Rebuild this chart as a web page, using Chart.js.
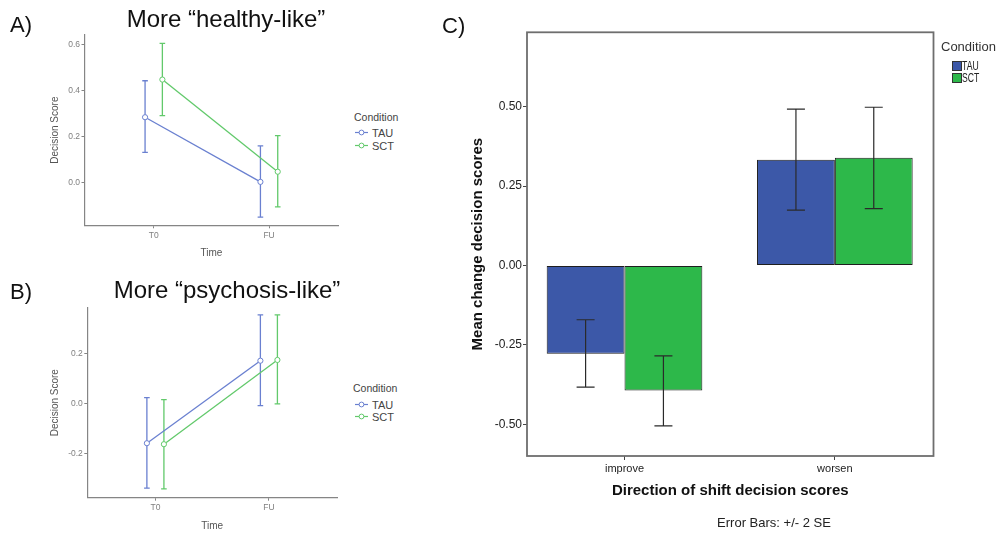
<!DOCTYPE html>
<html>
<head>
<meta charset="utf-8">
<title>Decision scores</title>
<script src="https://cdn.jsdelivr.net/npm/chart.js@4.4.1/dist/chart.umd.min.js"></script>
<style>
    body { margin: 0; background: #fff; font-family: 'Liberation Sans', Arial, sans-serif; }
    #page { position: relative; width: 1003px; height: 534px; overflow: hidden; }
    .box { position: absolute; }
    .txt { position: absolute; white-space: nowrap; line-height: 1; }
    .mid { transform: translate(-50%, -50%); }
    .left { transform: translate(0, -50%); }
    .panel-label { font-size: 22px; color: #111; }
    .panel-title { font-size: 24px; color: #111; }
    .gg-legend-title { font-size: 10.5px; color: #444; }
    .gg-legend-item { font-size: 11px; color: #444; }
    .sym { position: absolute; }
    .swatch { position: absolute; width: 8px; height: 8px; border: 1px solid #333; }
    .spss-item { font-size: 12px; color: #222; transform: translate(0, -50%) scaleX(0.72); transform-origin: left center; }
</style>
</head>
<body>
<div id="page">
    <div class="box" style="left:0;top:0;width:345px;height:265px"><canvas id="healthyChart"></canvas></div>
    <div class="box" style="left:0;top:270px;width:345px;height:264px"><canvas id="psychChart"></canvas></div>
    <div class="box" style="left:440px;top:0;width:563px;height:534px"><canvas id="shiftChart"></canvas></div>

    <!-- panel headings -->
    <div class="txt left panel-label" style="left:10px;top:25px">A)</div>
    <div class="txt mid panel-title" style="left:226px;top:19px">More “healthy-like”</div>
    <div class="txt left panel-label" style="left:10px;top:292px">B)</div>
    <div class="txt mid panel-title" style="left:227px;top:290px">More “psychosis-like”</div>
    <div class="txt left panel-label" style="left:442px;top:26px">C)</div>

    <!-- legend A -->
    <div class="txt left gg-legend-title" style="left:354px;top:117px">Condition</div>
    <svg class="sym" style="left:355px;top:128px" width="13" height="9"><line x1="0" y1="4.5" x2="13" y2="4.5" stroke="#6a80d0" stroke-width="1.2"/><circle cx="6.5" cy="4.5" r="2.4" fill="#fff" stroke="#6a80d0" stroke-width="1"/></svg>
    <div class="txt left gg-legend-item" style="left:372px;top:133px">TAU</div>
    <svg class="sym" style="left:355px;top:141px" width="13" height="9"><line x1="0" y1="4.5" x2="13" y2="4.5" stroke="#62c96b" stroke-width="1.2"/><circle cx="6.5" cy="4.5" r="2.4" fill="#fff" stroke="#62c96b" stroke-width="1"/></svg>
    <div class="txt left gg-legend-item" style="left:372px;top:146px">SCT</div>

    <!-- legend B -->
    <div class="txt left gg-legend-title" style="left:353px;top:388px">Condition</div>
    <svg class="sym" style="left:355px;top:400px" width="13" height="9"><line x1="0" y1="4.5" x2="13" y2="4.5" stroke="#6a80d0" stroke-width="1.2"/><circle cx="6.5" cy="4.5" r="2.4" fill="#fff" stroke="#6a80d0" stroke-width="1"/></svg>
    <div class="txt left gg-legend-item" style="left:372px;top:405px">TAU</div>
    <svg class="sym" style="left:355px;top:412px" width="13" height="9"><line x1="0" y1="4.5" x2="13" y2="4.5" stroke="#62c96b" stroke-width="1.2"/><circle cx="6.5" cy="4.5" r="2.4" fill="#fff" stroke="#62c96b" stroke-width="1"/></svg>
    <div class="txt left gg-legend-item" style="left:372px;top:417px">SCT</div>

    <!-- legend C -->
    <div class="txt left" style="left:941px;top:46px;font-size:13px;color:#333">Condition</div>
    <div class="swatch" style="left:952px;top:61px;background:#3c58a8"></div>
    <div class="txt spss-item" style="left:962px;top:66px">TAU</div>
    <div class="swatch" style="left:952px;top:72.5px;background:#2db84a"></div>
    <div class="txt spss-item" style="left:962px;top:77.5px">SCT</div>

    <div class="txt mid" style="left:774px;top:522px;font-size:13px;color:#222">Error Bars: +/- 2 SE</div>
</div>

<script>
// Data
const timeLabels = ['T0', 'FU'];
const conditions = ['TAU', 'SCT'];

// A) more "healthy-like"
const healthyTauMean = [0.284, 0.004];
const healthyTauLow = [0.132, -0.149];
const healthyTauHigh = [0.442, 0.160];
const healthySctMean = [0.447, 0.048];
const healthySctLow = [0.291, -0.104];
const healthySctHigh = [0.604, 0.204];
const healthyTicks = [0, 0.2, 0.4, 0.6];

// B) more "psychosis-like"
const psychTauMean = [-0.158, 0.172];
const psychTauLow = [-0.338, -0.008];
const psychTauHigh = [0.024, 0.355];
const psychSctMean = [-0.162, 0.175];
const psychSctLow = [-0.341, -0.001];
const psychSctHigh = [0.016, 0.355];
const psychTicks = [-0.2, 0, 0.2];

// C) mean change by direction of shift
const directions = ['improve', 'worsen'];
const shiftTauMean = [-0.278, 0.333];
const shiftTauLow = [-0.383, 0.174];
const shiftTauHigh = [-0.171, 0.492];
const shiftSctMean = [-0.394, 0.339];
const shiftSctLow = [-0.505, 0.179];
const shiftSctHigh = [-0.285, 0.498];
const shiftTicks = [-0.5, -0.25, 0, 0.25, 0.5];

const lineColors = ['#6a80d0', '#62c96b'];
const barColors = ['#3c58a8', '#2db84a'];
const dodge = 0.075;

Chart.defaults.font.family = "'Liberation Sans', Arial, sans-serif";
Chart.defaults.animation = false;

// Draw error bars from dataset errLow / errHigh
function drawErrorBars(chart, opts) {
    const ctx = chart.ctx;
    const yScale = chart.scales.y;
    ctx.save();
    chart.data.datasets.forEach((ds, i) => {
        if (!ds.errLow) return;
        const meta = chart.getDatasetMeta(i);
        ctx.strokeStyle = opts.color || ds.borderColor;
        ctx.lineWidth = opts.width || 1;
        meta.data.forEach((el, j) => {
            const x = el.x;
            const top = yScale.getPixelForValue(ds.errHigh[j]);
            const bot = yScale.getPixelForValue(ds.errLow[j]);
            ctx.beginPath();
            ctx.moveTo(x, top);
            ctx.lineTo(x, bot);
            ctx.moveTo(x - opts.cap, top);
            ctx.lineTo(x + opts.cap, top);
            ctx.moveTo(x - opts.cap, bot);
            ctx.lineTo(x + opts.cap, bot);
            ctx.stroke();
        });
    });
    ctx.restore();
}

const errorBarPlugin = {
    id: 'errorBars',
    beforeDatasetsDraw(chart, args, opts) {
        if (opts.under) drawErrorBars(chart, opts);
    },
    afterDatasetsDraw(chart, args, opts) {
        if (!opts.under) drawErrorBars(chart, opts);
    }
};

// SPSS style box round the plot area
const framePlugin = {
    id: 'frame',
    afterDatasetsDraw(chart, args, opts) {
        const a = chart.chartArea;
        const ctx = chart.ctx;
        ctx.save();
        ctx.strokeStyle = opts.color;
        ctx.lineWidth = opts.width;
        ctx.strokeRect(a.left, a.top, a.right - a.left, a.bottom - a.top);
        ctx.restore();
    }
};

// ggplot style panel (A and B)
function makeLinePanel(canvasId, tau, sct, yTicks, dims) {
    const groups = [tau, sct];
    const datasets = groups.map((g, k) => ({
        label: conditions[k],
        data: timeLabels.map((t, i) => ({ x: i + 1 + (k === 0 ? -dodge : dodge), y: g.mean[i] })),
        errLow: g.low,
        errHigh: g.high,
        showLine: true,
        borderColor: lineColors[k],
        borderWidth: 1.3,
        pointRadius: 2.6,
        pointBackgroundColor: '#fff',
        pointBorderColor: lineColors[k],
        pointBorderWidth: 1
    }));

    const axisColor = '#858585';
    return new Chart(document.getElementById(canvasId), {
        type: 'scatter',
        data: { datasets },
        plugins: [errorBarPlugin],
        options: {
            responsive: true,
            maintainAspectRatio: false,
            layout: { padding: { top: dims.top, right: dims.right, left: 0, bottom: 0 } },
            scales: {
                x: {
                    type: 'linear',
                    min: 0.4,
                    max: 2.6,
                    afterBuildTicks: s => { s.ticks = timeLabels.map((t, i) => ({ value: i + 1 })); },
                    afterFit: s => { s.height = dims.xHeight; },
                    ticks: {
                        autoSkip: false,
                        maxRotation: 0,
                        padding: 2,
                        color: '#7f7f7f',
                        font: { size: 8.5 },
                        callback: v => timeLabels[Math.round(v) - 1]
                    },
                    grid: { drawOnChartArea: false, drawTicks: true, tickLength: 3, color: axisColor },
                    border: { display: true, color: axisColor, width: 1.2 },
                    title: {
                        display: true,
                        text: 'Time',
                        color: '#555',
                        font: { size: 10 },
                        padding: { top: 0, bottom: dims.timePad }
                    }
                },
                y: {
                    min: dims.yMin,
                    max: dims.yMax,
                    afterBuildTicks: s => { s.ticks = yTicks.map(v => ({ value: v })); },
                    afterFit: s => { s.width = dims.yWidth; },
                    ticks: {
                        autoSkip: false,
                        padding: 1.5,
                        color: '#7f7f7f',
                        font: { size: 8.5 },
                        callback: v => v.toFixed(1)
                    },
                    grid: { drawOnChartArea: false, drawTicks: true, tickLength: 3, color: axisColor },
                    border: { display: true, color: axisColor, width: 1.2 },
                    title: {
                        display: true,
                        text: 'Decision Score',
                        color: '#555',
                        font: { size: 10 },
                        padding: { top: 49, bottom: 0 }
                    }
                }
            },
            plugins: {
                legend: { display: false },
                tooltip: { enabled: false },
                errorBars: { under: true, cap: 2.8, width: 1.3 }
            }
        }
    });
}

// SPSS style grouped bars (C)
function makeShiftPanel() {
    const groups = [
        { mean: shiftTauMean, low: shiftTauLow, high: shiftTauHigh },
        { mean: shiftSctMean, low: shiftSctLow, high: shiftSctHigh }
    ];
    const datasets = groups.map((g, k) => ({
        label: conditions[k],
        data: directions.map((d, i) => ({ x: i, y: g.mean[i] })),
        errLow: g.low,
        errHigh: g.high,
        backgroundColor: barColors[k],
        borderColor: '#1e1e1e',
        borderWidth: 1,
        borderSkipped: false,
        categoryPercentage: 0.74,
        barPercentage: 1
    }));

    const tickColor = '#444';
    return new Chart(document.getElementById('shiftChart'), {
        type: 'bar',
        data: { datasets },
        plugins: [errorBarPlugin, framePlugin],
        options: {
            responsive: true,
            maintainAspectRatio: false,
            layout: { padding: { top: 32.3, right: 69.5, left: 0, bottom: 0 } },
            scales: {
                x: {
                    type: 'linear',
                    offset: false,
                    min: -0.4636,
                    max: 1.469,
                    afterBuildTicks: s => { s.ticks = directions.map((d, i) => ({ value: i })); },
                    afterFit: s => { s.height = 78; },
                    ticks: {
                        autoSkip: false,
                        maxRotation: 0,
                        padding: 2,
                        color: '#222',
                        font: { size: 11 },
                        callback: v => directions[Math.round(v)]
                    },
                    grid: { offset: false, drawOnChartArea: false, drawTicks: true, tickLength: 4, color: tickColor },
                    border: { display: false },
                    title: {
                        display: true,
                        text: 'Direction of shift decision scores',
                        color: '#111',
                        font: { size: 15, weight: 'bold' },
                        padding: { top: 0, bottom: 34.3 }
                    }
                },
                y: {
                    min: -0.600,
                    max: 0.734,
                    afterBuildTicks: s => { s.ticks = shiftTicks.map(v => ({ value: v })); },
                    afterFit: s => { s.width = 87; },
                    ticks: {
                        autoSkip: false,
                        padding: 1,
                        color: '#222',
                        font: { size: 12 },
                        callback: v => v.toFixed(2)
                    },
                    grid: { drawOnChartArea: false, drawTicks: true, tickLength: 4, color: tickColor },
                    border: { display: false },
                    title: {
                        display: true,
                        text: 'Mean change decision scores',
                        color: '#111',
                        font: { size: 15, weight: 'bold' },
                        padding: { top: 28.5, bottom: 0 }
                    }
                }
            },
            plugins: {
                legend: { display: false },
                tooltip: { enabled: false },
                errorBars: { under: false, cap: 9, width: 1.2, color: '#2a2a2a' },
                frame: { color: '#6e6e6e', width: 1.8 }
            }
        }
    });
}

function initializeCharts() {
    makeLinePanel('healthyChart',
        { mean: healthyTauMean, low: healthyTauLow, high: healthyTauHigh },
        { mean: healthySctMean, low: healthySctLow, high: healthySctHigh },
        healthyTicks,
        { top: 35, right: 6.7, xHeight: 39.7, yWidth: 84.5, yMin: -0.184, yMax: 0.64, timePad: 5.7 });

    makeLinePanel('psychChart',
        { mean: psychTauMean, low: psychTauLow, high: psychTauHigh },
        { mean: psychSctMean, low: psychSctLow, high: psychSctHigh },
        psychTicks,
        { top: 37.7, right: 8, xHeight: 36.3, yWidth: 87.3, yMin: -0.376, yMax: 0.384, timePad: 2 });

    makeShiftPanel();
}

initializeCharts();
</script>
</body>
</html>
